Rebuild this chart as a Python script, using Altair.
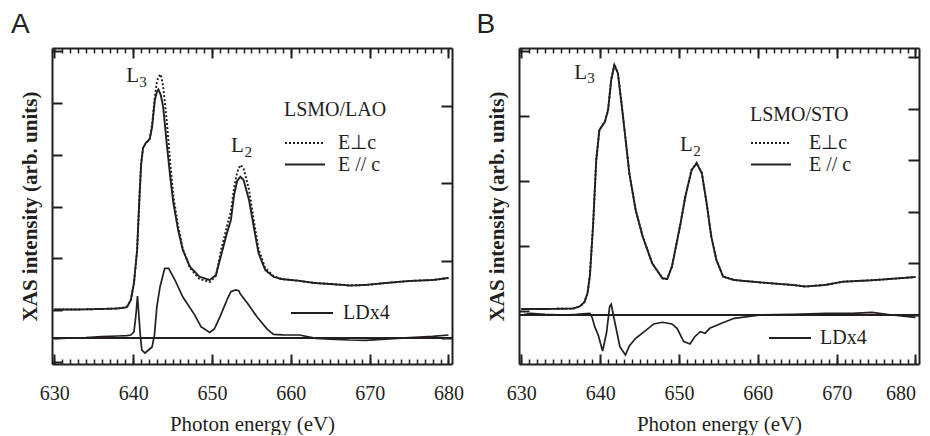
import altair as alt
import pandas as pd

INK = "#231f20"
SERIF = "Liberation Serif"
SANS = "Liberation Sans"

X_DOMAIN = [629.7, 680.45]
MAJOR_TICKS = [630, 640, 650, 660, 670, 680]
MINOR_TICKS = list(range(630, 681))

# ---------------- Panel A : LSMO/LAO ----------------
A_E = [630, 633, 636, 638, 639, 639.25, 639.7, 640.1, 640.5, 640.75,
       641.0, 641.25, 641.6, 642.1, 642.4, 642.75, 643.0, 643.2, 643.5, 643.8,
       644.25, 644.7, 645.1, 645.7, 646.3, 647.2, 648.4, 649.7, 650.5, 651.1,
       651.9, 652.4, 652.8, 653.2, 653.6, 654.0, 654.7, 655.3, 655.9, 656.75,
       657.8, 658.8, 660.9, 663, 665, 667.5, 669.5, 672, 675, 678, 680]
A_PAR = [1.013, 1.013, 1.023, 1.032, 1.052, 1.071, 1.196, 1.524, 2.161, 3.029,
         3.801, 4.129, 4.225, 4.303, 4.534, 5.055, 5.209, 5.258, 5.152, 4.926,
         4.225, 3.575, 3.068, 2.547, 2.161, 1.839, 1.646, 1.582, 1.679, 2.026,
         2.489, 2.740, 3.222, 3.492, 3.575, 3.512, 3.126, 2.605, 2.103, 1.775,
         1.646, 1.601, 1.569, 1.524, 1.505, 1.476, 1.486, 1.524, 1.563, 1.582, 1.621]
A_PERP = [1.013, 1.013, 1.023, 1.032, 1.052, 1.071, 1.196, 1.524, 2.161, 3.029,
          3.801, 4.129, 4.225, 4.303, 4.592, 5.113, 5.402, 5.500, 5.550, 5.325,
          4.669, 3.840, 3.203, 2.624, 2.180, 1.814, 1.601, 1.544, 1.659, 2.122,
          2.624, 2.913, 3.357, 3.666, 3.801, 3.743, 3.319, 2.740, 2.180, 1.814,
          1.659, 1.601, 1.569, 1.524, 1.505, 1.476, 1.486, 1.524, 1.563, 1.582, 1.621]
A_LD_E = [630, 632, 634, 636, 638, 639.2, 639.7, 640.1, 640.35, 640.55,
          640.75, 640.9, 641.1, 641.5, 641.95, 642.4, 642.7, 643.0, 643.4, 644.0,
          644.5, 645.3, 646.3, 647.8, 648.6, 649.7, 650.3, 651.1, 652.0, 652.4,
          653.0, 653.4, 653.6, 654.5, 655.7, 657.0, 657.8, 659, 661.1, 663.2,
          665, 667.4, 669.5, 671.5, 673.5, 675.7, 678, 680]
A_LD = [-0.01, 0.0, 0.005, 0.017, 0.026, 0.03, 0.039, 0.08, 0.30, 0.543,
        0.25, 0.04, -0.155, -0.194, -0.155, -0.116, 0.04, 0.40, 0.66, 0.90,
        0.901, 0.75, 0.53, 0.30, 0.146, 0.071, 0.116, 0.297, 0.517, 0.599,
        0.621, 0.612, 0.569, 0.449, 0.275, 0.116, 0.048, 0.04, 0.039, -0.004,
        -0.015, -0.026, -0.03, -0.017, -0.005, 0.009, 0.02, 0.039]

# ---------------- Panel B : LSMO/STO ----------------
B_E = [630, 633, 636.6, 637.5, 638.0, 638.4, 638.7, 639.1, 639.5, 639.9,
       640.6, 641.0, 641.4, 641.8, 642.25, 642.9, 643.7, 644.5, 645.4, 646.6,
       647.9, 648.5, 649.1, 650.2, 650.8, 651.6, 652.25, 652.9, 653.5, 654.1,
       654.75, 655.6, 657.0, 660.8, 664.5, 666.0, 668.5, 670.8, 675, 680]
B_PAR = [0.031, 0.031, 0.038, 0.077, 0.138, 0.277, 0.554, 1.323, 2.323, 2.785,
         2.912, 3.092, 3.554, 3.785, 3.657, 2.989, 2.118, 1.554, 1.143, 0.734,
         0.503, 0.492, 0.682, 1.349, 1.758, 2.169, 2.272, 2.118, 1.662, 1.143,
         0.785, 0.528, 0.477, 0.435, 0.400, 0.377, 0.400, 0.451, 0.477, 0.523]
B_PERP = [0.031, 0.031, 0.038, 0.077, 0.138, 0.277, 0.554, 1.323, 2.323, 2.785,
          2.912, 3.092, 3.560, 3.795, 3.662, 2.992, 2.118, 1.554, 1.143, 0.734,
          0.503, 0.492, 0.682, 1.352, 1.762, 2.175, 2.280, 2.122, 1.664, 1.143,
          0.785, 0.528, 0.477, 0.435, 0.400, 0.377, 0.400, 0.451, 0.477, 0.523]
B_LD_E = [630, 631.2, 633, 635.4, 637, 638.7, 639.0, 639.3, 639.75, 640.3,
          640.8, 641.2, 641.4, 641.8, 642.5, 643.2, 643.7, 644.5, 645.6, 646.8,
          647.9, 649.1, 649.75, 650.6, 651.4, 652.0, 652.7, 653.3, 653.9, 655.4,
          657.0, 660.4, 664.5, 668.7, 672, 674.5, 677.0, 680]
B_LD = [0.0, 0.033, 0.01, 0.0, 0.01, 0.033, -0.058, -0.227, -0.388, -0.698,
        -0.349, 0.161, 0.207, -0.097, -0.614, -0.775, -0.60, -0.452, -0.324, -0.174,
        -0.141, -0.174, -0.258, -0.517, -0.562, -0.421, -0.324, -0.355, -0.258, -0.161,
        -0.064, 0.0, 0.014, 0.033, 0.03, 0.052, 0.0, -0.045]

POL_NAMES = ["E\u22a5c", "E // c"]

# Peak labels (L with subscript edge number), placed in data units
A_PEAKS = [("L", "3", 639.12, 5.40, 640.76, 5.306), ("L", "2", 652.41, 4.05, 654.12, 3.955)]
B_PEAKS = [("L", "3", 636.71, 3.57, 638.35, 3.505), ("L", "2", 650.13, 2.46, 651.82, 2.385)]

W, H = 400, 316
LINE_SYMBOL = "M-1,0H3"


def panel(letter, dx, sample, e, par, perp, ld_e, ld, yl_dom, yl_ticks, yr_dom,
          yr_ticks, peaks, leg, last_right):
    xas = pd.DataFrame({
        "E": e + e,
        "I": perp + par,
        "pol": [POL_NAMES[0]] * len(e) + [POL_NAMES[1]] * len(e),
    })
    ldf = pd.DataFrame({"E": ld_e, "LD": ld, "name": ["LDx4"] * len(ld_e)})
    main = pd.DataFrame({"E": [p[2] for p in peaks], "I": [p[3] for p in peaks],
                         "t": [p[0] for p in peaks]})
    sub = pd.DataFrame({"E": [p[4] for p in peaks], "I": [p[5] for p in peaks],
                        "t": [p[1] for p in peaks]})

    def xs():
        return alt.Scale(domain=X_DOMAIN, nice=False, zero=False)

    def yl():
        return alt.Scale(domain=yl_dom, nice=False, zero=False)

    def yr():
        return alt.Scale(domain=yr_dom, nice=False, zero=False)

    if last_right:
        label_align = {"condition": {"test": "datum.value >= 680", "value": "right"},
                       "value": "center"}
    else:
        label_align = "center"

    lines = alt.Chart(xas).mark_line(strokeWidth=1.9, color=INK, clip=True).encode(
        x=alt.X("E:Q", scale=xs(), axis=alt.Axis(
            orient="bottom", values=MAJOR_TICKS, ticks=False, tickSize=0, domain=False,
            grid=False, labelFont=SERIF, labelFontSize=20, labelColor=INK,
            labelFlush=False, labelAlign=label_align, labelPadding=19,
            title="Photon energy (eV)", titleFont=SERIF, titleFontSize=21,
            titleFontWeight="normal", titleColor=INK, titlePadding=10)),
        y=alt.Y("I:Q", scale=yl(), axis=alt.Axis(
            orient="left", labels=False, ticks=False, tickSize=0, domain=False, grid=False,
            title="XAS intensity (arb. units)", titleFont=SERIF, titleFontSize=21,
            titleFontWeight="bold", titleColor=INK, titlePadding=16,
            titleBaseline="alphabetic")),
        strokeDash=alt.StrokeDash("pol:N", scale=alt.Scale(
            domain=POL_NAMES, range=[[2, 2], [1, 0]]), legend=alt.Legend(
            orient="none", legendX=leg["x"], legendY=leg["y"], title=sample,
            titleFont=SERIF, titleFontSize=20, titleFontWeight="normal",
            titleColor=INK, titlePadding=leg["tp"], labelFont=SERIF,
            labelFontSize=20, labelColor=INK, labelOffset=leg["lo"],
            symbolType=LINE_SYMBOL, symbolSize=400, symbolStrokeWidth=1.8,
            symbolStrokeColor=INK, rowPadding=0.5, padding=0)),
    )

    ld_line = alt.Chart(ldf).mark_line(strokeWidth=1.7, clip=True).encode(
        x=alt.X("E:Q", scale=xs(), axis=None),
        y=alt.Y("LD:Q", scale=yr(), axis=alt.Axis(
            orient="left", offset=-W, values=yr_ticks, labels=False, tickSize=11,
            tickWidth=2, tickColor=INK, domain=True, domainWidth=2, domainColor=INK,
            grid=False, title=None)),
        color=alt.Color("name:N", scale=alt.Scale(domain=["LDx4"], range=[INK]),
                        legend=alt.Legend(
            orient="none", legendX=leg["lx"], legendY=leg["ly"], title=None,
            labelFont=SERIF, labelFontSize=20, labelColor=INK,
            labelOffset=leg["llo"], symbolType=LINE_SYMBOL, symbolSize=441,
            symbolStrokeWidth=1.8, symbolStrokeColor=INK, rowPadding=0,
            padding=0)),
    )

    zero = alt.Chart(ldf).mark_rule(strokeWidth=1, color=INK).encode(
        y=alt.YDatum(0, scale=yr(), axis=None))

    def tick_layer(orient, values, size, width, with_y, frame):
        enc = dict(x=alt.X("E:Q", scale=xs(), axis=alt.Axis(
            orient=orient, offset=-H, values=values, labels=False, tickSize=size,
            tickWidth=width, tickColor=INK, domain=frame, domainWidth=2,
            domainColor=INK, grid=False, title=None)))
        if with_y:
            enc["y"] = alt.Y("I:Q", scale=yl(), axis=alt.Axis(
                orient="right", offset=-W, values=yl_ticks, labels=False,
                tickSize=10, tickWidth=2, tickColor=INK, domain=True, domainWidth=2,
                domainColor=INK, grid=False, title=None))
        else:
            enc["y"] = alt.Y("I:Q", scale=yl(), axis=None)
        return alt.Chart(xas).mark_line(opacity=0).encode(**enc)

    t1 = tick_layer("top", MAJOR_TICKS, 10, 2, True, True)
    t2 = tick_layer("top", MINOR_TICKS, 5, 1.5, False, False)
    t3 = tick_layer("bottom", MAJOR_TICKS, 10, 2, False, True)
    t4 = tick_layer("bottom", MINOR_TICKS, 5, 1.5, False, False)

    lab_main = alt.Chart(main).mark_text(
        align="left", baseline="alphabetic", font=SERIF, fontSize=21, color=INK).encode(
        x=alt.X("E:Q", scale=xs(), axis=None), y=alt.Y("I:Q", scale=yl(), axis=None),
        text="t:N")
    lab_sub = alt.Chart(sub).mark_text(
        align="left", baseline="alphabetic", font=SERIF, fontSize=15, color=INK).encode(
        x=alt.X("E:Q", scale=xs(), axis=None), y=alt.Y("I:Q", scale=yl(), axis=None),
        text="t:N")

    return alt.layer(lines, ld_line, zero, t1, t2, t3, t4, lab_main, lab_sub).resolve_scale(
        x="independent", y="independent").resolve_axis(
        x="independent", y="independent").properties(
        width=W, height=H,
        title=alt.TitleParams(letter, anchor="start", frame="group", dx=dx, offset=-13.5,
                              fontSize=28, font=SANS, fontWeight="normal", color=INK,
                              baseline="alphabetic"))


pA = panel("A", -41, "LSMO/LAO", A_E, A_PAR, A_PERP, A_LD_E, A_LD,
           [-0.0386, 6.058], [0, 1, 2, 3, 4, 5, 6], [-0.336, 3.75], [0, 1, 2, 3],
           A_PEAKS, dict(x=232, y=52.4, tp=11.6, lo=32, lx=238, ly=253.5, llo=30),
           False)
pB = panel("B", -42.4, "LSMO/STO", B_E, B_PAR, B_PERP, B_LD_E, B_LD,
           [-0.815, 4.046], [0, 1, 2, 3, 4], [-0.95, 5.174], [0, 1, 2, 3, 4, 5],
           B_PEAKS, dict(x=231, y=57.4, tp=6.6, lo=37, lx=249, ly=278.5, llo=29),
           True)

chart = alt.hconcat(pA, pB, spacing=12).resolve_scale(
    strokeDash="independent", color="independent").resolve_legend(
    strokeDash="independent", color="independent").properties(
    padding={"left": 2, "top": 2, "right": 0, "bottom": 0}
).configure_view(stroke=INK, strokeWidth=2).configure(background="white")

chart.save("out.html", embed_options={"renderer": "svg", "actions": False})
